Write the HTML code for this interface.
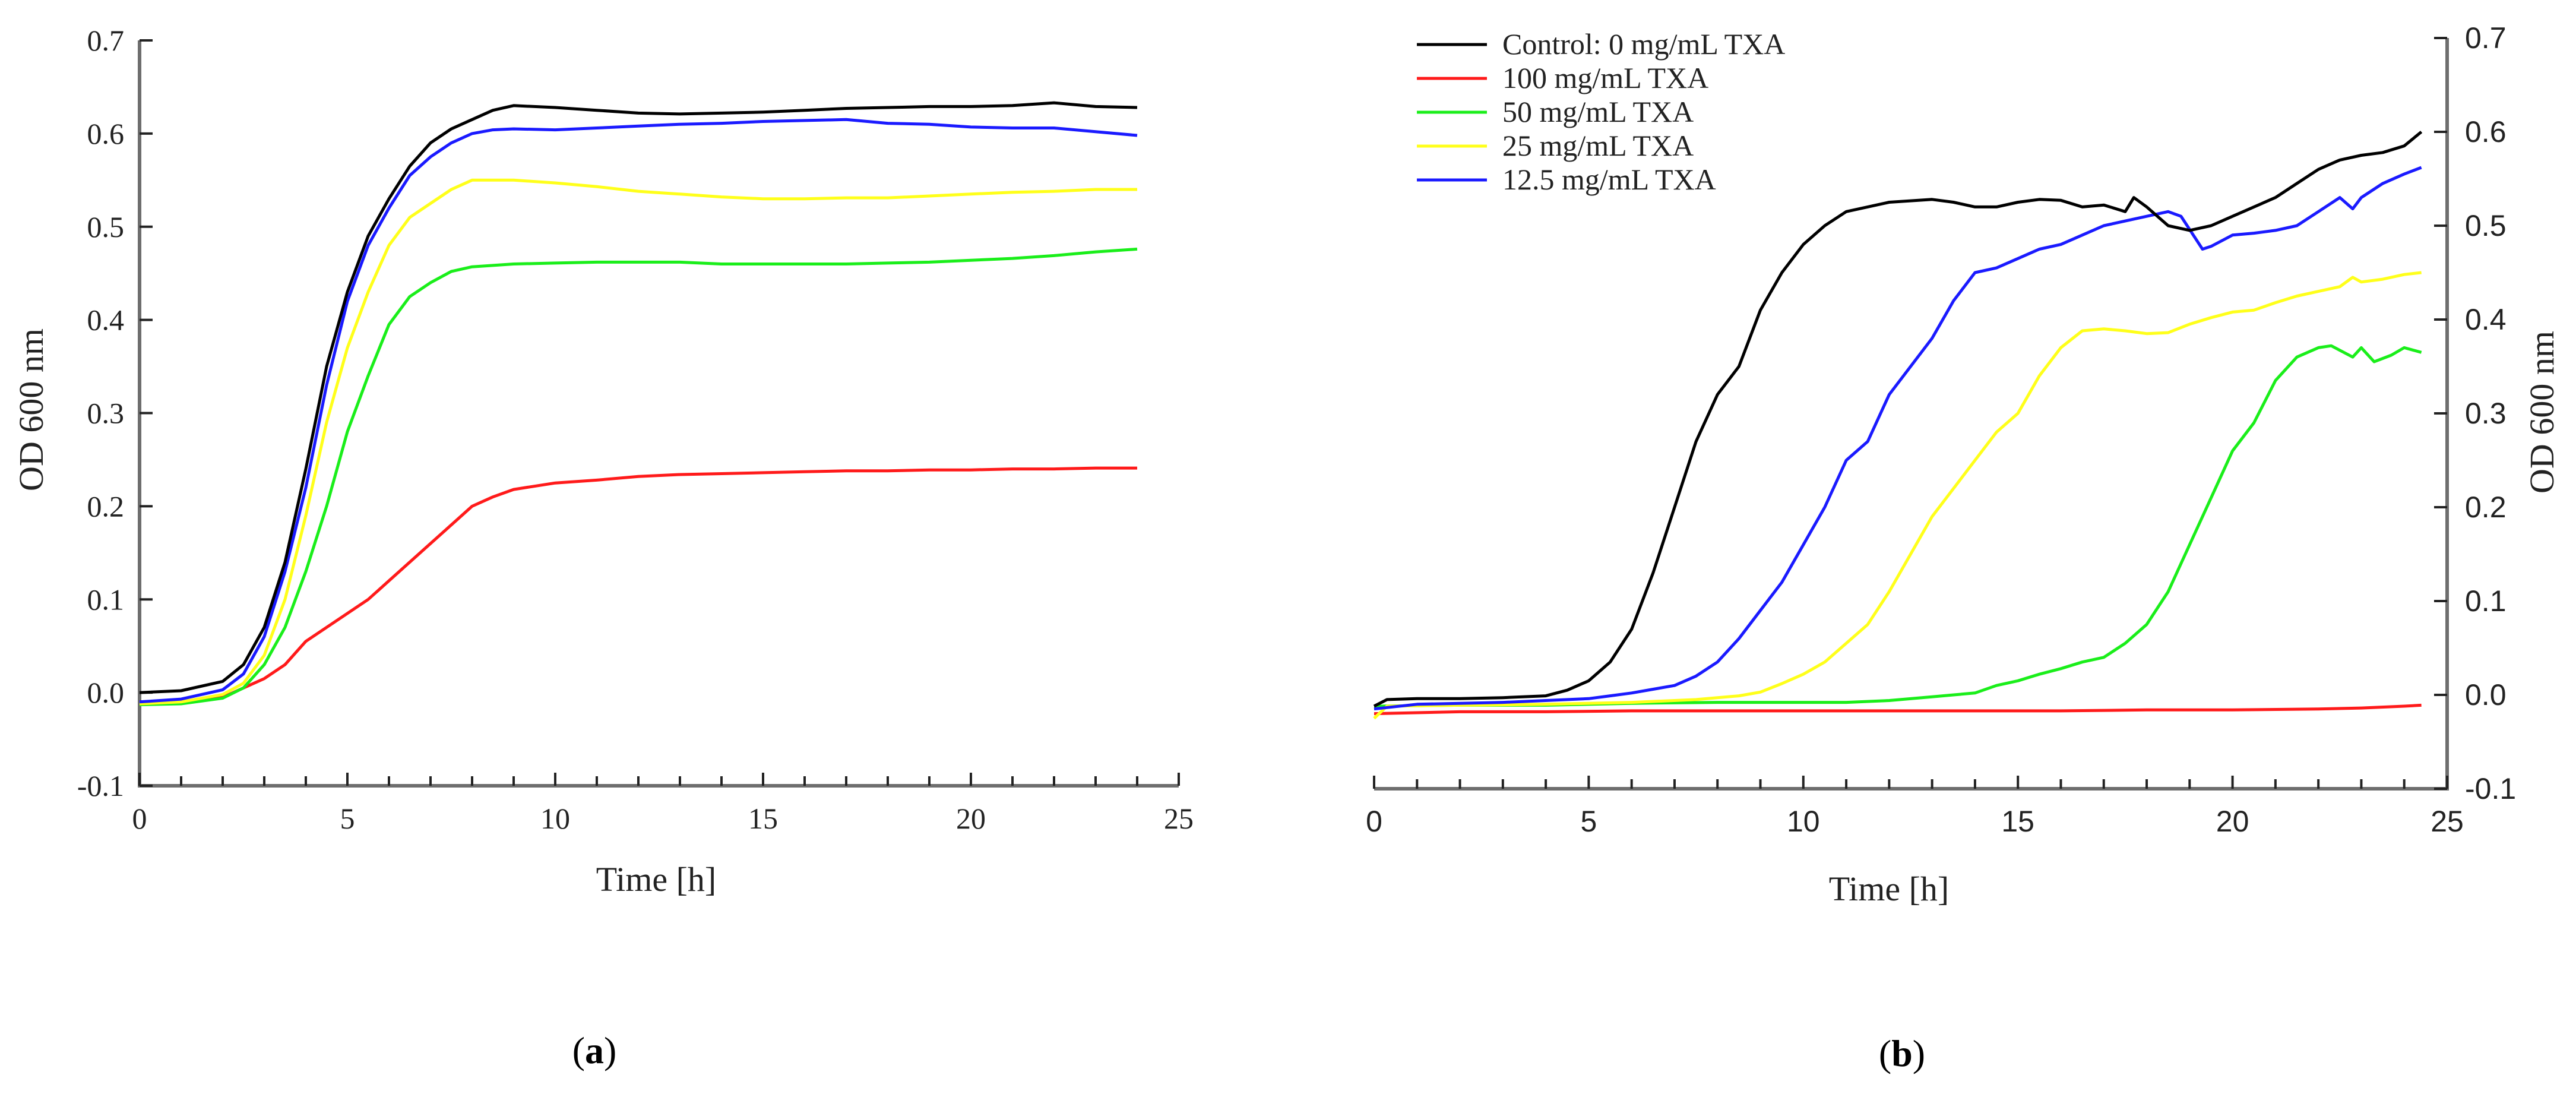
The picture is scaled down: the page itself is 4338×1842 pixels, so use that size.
<!DOCTYPE html>
<html><head><meta charset="utf-8">
<style>
html,body{margin:0;padding:0;background:#fff;}
svg{display:block;}
</style></head>
<body>
<svg id="fig" width="4338" height="1842" viewBox="0 0 4338 1842" xmlns="http://www.w3.org/2000/svg">
<g id="chartA"></g>
<g id="chartB"></g>
</svg>
<script>
// ---------- Chart (a) data ----------
const aBlackX=[0,1,2,2.5,3,3.5,4,4.5,5,5.5,6,6.5,7,7.5,8,8.5,9,10,11,12,13,14,15,16,17,18,19,20,21,22,23,24];
const aBlackY=[0,0.002,0.012,0.03,0.07,0.14,0.24,0.35,0.43,0.49,0.53,0.565,0.59,0.605,0.615,0.625,0.63,0.628,0.625,0.622,0.621,0.622,0.623,0.625,0.627,0.628,0.629,0.629,0.63,0.633,0.629,0.628];
const aBlueX=[0,1,2,2.5,3,3.5,4,4.5,5,5.5,6,6.5,7,7.5,8,8.5,9,10,11,12,13,14,15,16,17,18,19,20,21,22,23,24];
const aBlueY=[-0.01,-0.007,0.003,0.02,0.06,0.13,0.22,0.33,0.42,0.48,0.52,0.555,0.575,0.59,0.6,0.604,0.605,0.604,0.606,0.608,0.61,0.611,0.613,0.614,0.615,0.611,0.61,0.607,0.606,0.606,0.602,0.598];
const aYellowX=[0,1,2,2.5,3,3.5,4,4.5,5,5.5,6,6.5,7,7.5,8,9,10,11,12,13,14,15,16,17,18,19,20,21,22,23,24];
const aYellowY=[-0.012,-0.01,-0.002,0.01,0.04,0.1,0.19,0.29,0.37,0.43,0.48,0.51,0.525,0.54,0.55,0.55,0.547,0.543,0.538,0.535,0.532,0.53,0.53,0.531,0.531,0.533,0.535,0.537,0.538,0.54,0.54];
const aGreenX=[0,1,2,2.5,3,3.5,4,4.5,5,5.5,6,6.5,7,7.5,8,9,10,11,12,13,14,15,16,17,18,19,20,21,22,23,24];
const aGreenY=[-0.013,-0.012,-0.006,0.005,0.03,0.07,0.13,0.2,0.28,0.34,0.395,0.425,0.44,0.452,0.457,0.46,0.461,0.462,0.462,0.462,0.46,0.46,0.46,0.46,0.461,0.462,0.464,0.466,0.469,0.473,0.476];
const aRedX=[0,1,2,2.5,3,3.5,4,4.5,5,5.5,6,6.5,7,7.5,8,8.5,9,10,11,12,13,14,15,16,17,18,19,20,21,22,23,24];
const aRedY=[-0.01,-0.01,-0.005,0.005,0.015,0.03,0.055,0.07,0.085,0.1,0.12,0.14,0.16,0.18,0.2,0.21,0.218,0.225,0.228,0.232,0.234,0.235,0.236,0.237,0.238,0.238,0.239,0.239,0.24,0.24,0.241,0.241];

// ---------- Chart (b) data ----------
const bBlackX=[0,0.3,1,2,3,4,4.5,5,5.5,6,6.5,7,7.5,8,8.5,9,9.5,10,10.5,11,11.5,12,13,13.5,14,14.5,15,15.5,16,16.5,17,17.5,17.7,18,18.5,19,19.5,20,20.5,21,21.5,22,22.5,23,23.5,24,24.4];
const bBlackY=[-0.012,-0.005,-0.004,-0.004,-0.003,-0.001,0.005,0.015,0.035,0.07,0.13,0.2,0.27,0.32,0.35,0.41,0.45,0.48,0.5,0.515,0.52,0.525,0.528,0.525,0.52,0.52,0.525,0.528,0.527,0.52,0.522,0.515,0.53,0.52,0.5,0.495,0.5,0.51,0.52,0.53,0.545,0.56,0.57,0.575,0.578,0.585,0.6];
const bBlueX=[0,1,2,3,4,5,5.5,6,6.5,7,7.5,8,8.5,9,9.5,10,10.5,11,11.5,12,12.5,13,13.5,14,14.5,15,15.5,16,16.5,17,17.5,18,18.5,18.8,19.3,19.5,20,20.5,21,21.5,22,22.5,22.8,23,23.5,24,24.4];
const bBlueY=[-0.015,-0.01,-0.009,-0.008,-0.006,-0.004,-0.001,0.002,0.006,0.01,0.02,0.035,0.06,0.09,0.12,0.16,0.2,0.25,0.27,0.32,0.35,0.38,0.42,0.45,0.455,0.465,0.475,0.48,0.49,0.5,0.505,0.51,0.515,0.51,0.475,0.478,0.49,0.492,0.495,0.5,0.515,0.53,0.518,0.53,0.545,0.555,0.562];
const bYellowX=[0,0.3,2,4,6,7.5,8.5,9,9.5,10,10.5,11,11.5,12,12.5,13,13.5,14,14.5,15,15.5,16,16.5,17,17.5,18,18.5,19,19.5,20,20.5,21,21.5,22,22.5,22.8,23,23.5,24,24.4];
const bYellowY=[-0.025,-0.012,-0.011,-0.01,-0.008,-0.005,-0.001,0.003,0.012,0.022,0.035,0.055,0.075,0.11,0.15,0.19,0.22,0.25,0.28,0.3,0.34,0.37,0.388,0.39,0.388,0.385,0.386,0.395,0.402,0.408,0.41,0.418,0.425,0.43,0.435,0.445,0.44,0.443,0.448,0.45];
const bGreenX=[0,2,4,6,8,10,11,12,13,13.5,14,14.5,15,15.5,16,16.5,17,17.5,18,18.5,19,19.5,20,20.5,21,21.5,22,22.3,22.8,23,23.3,23.7,24,24.4];
const bGreenY=[-0.012,-0.011,-0.011,-0.009,-0.008,-0.008,-0.008,-0.006,-0.002,0,0.002,0.01,0.015,0.022,0.028,0.035,0.04,0.055,0.075,0.11,0.16,0.21,0.26,0.29,0.335,0.36,0.37,0.372,0.36,0.37,0.355,0.362,0.37,0.365];
const bRedX=[0,2,4,6,8,10,12,14,16,18,20,22,23,24,24.4];
const bRedY=[-0.02,-0.018,-0.018,-0.017,-0.017,-0.017,-0.017,-0.017,-0.017,-0.016,-0.016,-0.015,-0.014,-0.012,-0.011];

const xTickLabels=["0","5","10","15","20","25"];
const yTickLabelsA=["-0.1","0.0","0.1","0.2","0.3","0.4","0.5","0.6","0.7"];
const yTickLabelsB=["-0.1","0.0","0.1","0.2","0.3","0.4","0.5","0.6","0.7"];
const legendLabels=["Control: 0 mg/mL TXA","100 mg/mL TXA","50 mg/mL TXA","25 mg/mL TXA","12.5 mg/mL TXA"];

const NS="http://www.w3.org/2000/svg";
function mk(parent,tag,attrs,text){
  const e=document.createElementNS(NS,tag);
  for(const k in attrs)e.setAttribute(k,attrs[k]);
  if(text!==undefined)e.textContent=text;
  parent.appendChild(e);return e;
}
const COLORS={black:"#000000",red:"#ff1a1a",green:"#1aee1a",yellow:"#ffff1a",blue:"#1a1aff"};

function drawChart(g,cfg){
  const sx=v=>cfg.x0+(v-0)*(cfg.x25-cfg.x0)/25;
  const sy=v=>cfg.yBot+(v+0.1)*(cfg.yTop-cfg.yBot)/0.8;
  const axCol="#6e6e6e";
  const ax=mk(g,"line",{x1:sx(0),y1:sy(-0.1),x2:sx(25),y2:sy(-0.1),stroke:axCol,"stroke-width":6});
  
  const axX=cfg.rightAxis?sx(25):sx(0);
  const ay=mk(g,"line",{x1:axX,y1:sy(-0.1)+3,x2:axX,y2:sy(0.7),stroke:axCol,"stroke-width":6});
  
  for(let i=0;i<=25;i++){
    const len=(i%5===0)?22:16;
    const t=mk(g,"line",{x1:sx(i),y1:sy(-0.1),x2:sx(i),y2:sy(-0.1)-len,stroke:"#222","stroke-width":4});
    
  }
  xTickLabels.forEach((lab,i)=>{
    const t=mk(g,"text",{x:sx(+lab),y:cfg.xLabY,"text-anchor":"middle","font-family":cfg.tickFont,"font-size":cfg.tickSize,fill:"#222"},lab);
    
  });
  cfg.yLabels.forEach((lab,i)=>{
    const v=+lab;
    const dir=cfg.rightAxis?-1:1;
    const t=mk(g,"line",{x1:axX,y1:sy(v),x2:axX+dir*22,y2:sy(v),stroke:"#222","stroke-width":4});
    
    const tl=mk(g,"text",{x:cfg.rightAxis?axX+30:axX-26,y:sy(v)+17,"text-anchor":cfg.rightAxis?"start":"end","font-family":cfg.tickFont,"font-size":cfg.tickSize,fill:"#222"},lab);
    
  });
  cfg.series.forEach(s=>{
    const d=s.x.map((xv,i)=>(i?"L":"M")+sx(xv).toFixed(1)+","+sy(s.y[i]).toFixed(1)).join(" ");
    const p=mk(g,"path",{d:d,fill:"none",stroke:s.color,"stroke-width":5,"stroke-linejoin":"round"});
    
  });
  const xt=mk(g,"text",{x:cfg.xTitleX,y:cfg.xTitleY,"text-anchor":"middle","font-family":"Liberation Serif, serif","font-size":58,fill:"#222"},"Time [h]");
  
  const yt=mk(g,"text",{x:cfg.yTitleX,y:cfg.yTitleY,"text-anchor":"middle","font-family":"Liberation Serif, serif","font-size":58,fill:"#222",transform:`rotate(-90 ${cfg.yTitleX} ${cfg.yTitleY})`},"OD 600 nm");
  
  const pl=mk(g,"text",{x:cfg.panelX,y:cfg.panelY,"text-anchor":"middle","font-family":"Liberation Serif, serif","font-size":64,fill:"#000"});
  
  mk(pl,"tspan",{},"(");mk(pl,"tspan",{"font-weight":"bold"},cfg.panel);mk(pl,"tspan",{},")");
}

drawChart(document.getElementById('chartA'),{
  x0:235,x25:1985,yTop:68,yBot:1323,rightAxis:false,
  tickFont:"Liberation Serif, serif",tickSize:50,xLabY:1395,yLabels:yTickLabelsA,
  xTitleX:1105,xTitleY:1500,yTitleX:72,yTitleY:690,panel:"a",panelX:1001,panelY:1790,
  series:[
    {name:'series-100mg-a',x:aRedX,y:aRedY,color:COLORS.red},
    {name:'series-50mg-a',x:aGreenX,y:aGreenY,color:COLORS.green},
    {name:'series-25mg-a',x:aYellowX,y:aYellowY,color:COLORS.yellow},
    {name:'series-12-5mg-a',x:aBlueX,y:aBlueY,color:COLORS.blue},
    {name:'series-control-a',x:aBlackX,y:aBlackY,color:COLORS.black}
  ]
});
drawChart(document.getElementById('chartB'),{
  x0:2314,x25:4121,yTop:64,yBot:1328,rightAxis:true,
  tickFont:"Liberation Sans, sans-serif",tickSize:50,xLabY:1400,yLabels:yTickLabelsB,
  xTitleX:3181,xTitleY:1516,yTitleX:4300,yTitleY:694,panel:"b",panelX:3203,panelY:1795,
  series:[
    {name:'series-100mg-b',x:bRedX,y:bRedY,color:COLORS.red},
    {name:'series-50mg-b',x:bGreenX,y:bGreenY,color:COLORS.green},
    {name:'series-25mg-b',x:bYellowX,y:bYellowY,color:COLORS.yellow},
    {name:'series-12-5mg-b',x:bBlueX,y:bBlueY,color:COLORS.blue},
    {name:'series-control-b',x:bBlackX,y:bBlackY,color:COLORS.black}
  ]
});
const lg=mk(document.getElementById('chartB'),"g",{});

const legCols=[COLORS.black,COLORS.red,COLORS.green,COLORS.yellow,COLORS.blue];
legendLabels.forEach((lab,i)=>{
  const y=75+i*57;
  const e=mk(lg,"g",{});
  
  
  mk(e,"line",{x1:2386,y1:y,x2:2504,y2:y,stroke:legCols[i],"stroke-width":5});
  mk(e,"text",{x:2530,y:y+16,"font-family":"Liberation Serif, serif","font-size":50,fill:"#222"},lab);
});
</script>
</body></html>
